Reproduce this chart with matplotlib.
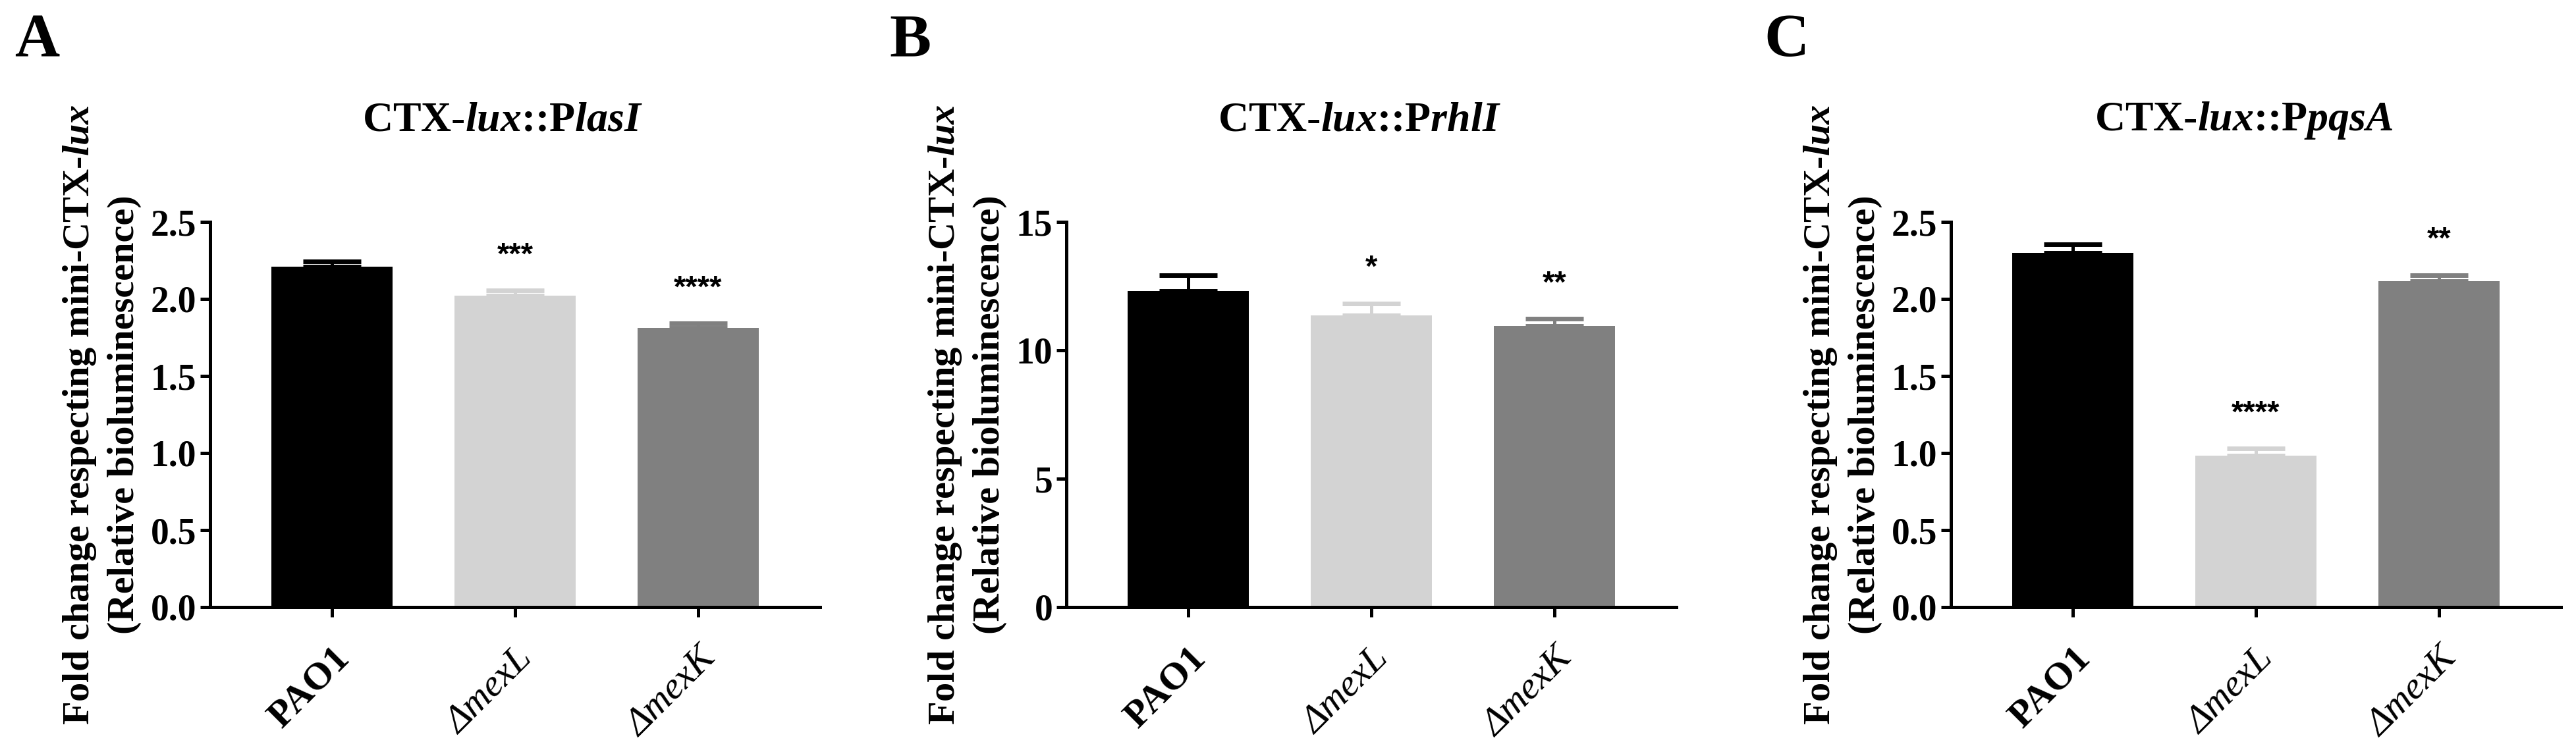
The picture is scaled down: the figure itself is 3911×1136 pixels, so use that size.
import numpy as np
import matplotlib
matplotlib.use("Agg")
import matplotlib.pyplot as plt

# ---------- data ----------
strains = ["PAO1", "\u0394mexL", "\u0394mexK"]
bar_colors = ["#000000", "#d3d3d3", "#808080"]

titles = ["CTX-$lux$::P$lasI$", "CTX-$lux$::P$rhlI$", "CTX-$lux$::P$pqsA$"]
panel_letters = ["A", "B", "C"]

lasI_mean = [2.21, 2.02, 1.81]
lasI_err = [0.035, 0.035, 0.03]
lasI_stars = ["", "***", "****"]

rhlI_mean = [12.3, 11.35, 10.95]
rhlI_err = [0.63, 0.48, 0.28]
rhlI_stars = ["", "*", "**"]

pqsA_mean = [2.30, 0.985, 2.115]
pqsA_err = [0.055, 0.045, 0.04]
pqsA_stars = ["", "****", "**"]

y_ticks = [np.arange(0, 2.51, 0.5), [0, 5, 10, 15], np.arange(0, 2.51, 0.5)]
y_fmt = ["{:.1f}", "{:.0f}", "{:.1f}"]

ylabel = "Fold change respecting mini-CTX-$lux$\n(Relative bioluminescence)"

# ---------- style ----------
plt.rcParams["font.family"] = ["Liberation Serif", "DejaVu Serif"]
plt.rcParams["font.weight"] = "bold"
plt.rcParams["mathtext.fontset"] = "custom"
plt.rcParams["mathtext.rm"] = "Liberation Serif:bold"
plt.rcParams["mathtext.it"] = "Liberation Serif:italic:bold"
plt.rcParams["mathtext.bf"] = "Liberation Serif:bold"

W, H = 3911, 1136
fig = plt.figure(figsize=(W / 100, H / 100), dpi=100)

ax_left = [319, 1619, 2962]
ax_w, ax_top, ax_bot = 926, 337, 922
letter_x = [22, 1350, 2678]

panels = [
    (lasI_mean, lasI_err, lasI_stars),
    (rhlI_mean, rhlI_err, rhlI_stars),
    (pqsA_mean, pqsA_err, pqsA_stars),
]

lw = 3.6
for i, (means, errs, stars) in enumerate(panels):
    ax = fig.add_axes([ax_left[i] / W, 1 - ax_bot / H, ax_w / W, (ax_bot - ax_top) / H])
    x = np.arange(len(strains))
    ax.bar(x, means, width=0.66, color=bar_colors, edgecolor="none", zorder=2)
    for xi, m, e, c in zip(x, means, errs, bar_colors):
        ax.errorbar(xi, m, yerr=[[0], [e]], fmt="none", ecolor=c,
                    elinewidth=3.6, capsize=32, capthick=5, zorder=1)
    for xi, m, e, s in zip(x, means, errs, stars):
        if s:
            ax.annotate(s, xy=(xi, m + e), xytext=(0, 22), textcoords="offset points",
                        ha="center", va="bottom", fontsize=34,
                        family=["Liberation Sans", "DejaVu Sans"], fontweight="bold")

    ticks = y_ticks[i]
    ax.set_ylim(0, ticks[-1])
    ax.set_xlim(-0.665, 2.665)
    ax.set_yticks(ticks)
    ax.set_yticklabels([y_fmt[i].format(t) for t in ticks], fontsize=40, fontweight="bold")
    ax.set_xticks(x)
    ax.set_xticklabels(strains, fontsize=42, rotation=45, ha="right",
                       va="top", rotation_mode="anchor")
    for j, lab in enumerate(ax.get_xticklabels()):
        if j == 0:
            lab.set_fontweight("bold")
        else:
            lab.set_fontweight("normal")
            lab.set_fontstyle("italic")

    for side in ["top", "right"]:
        ax.spines[side].set_visible(False)
    for side in ["left", "bottom"]:
        ax.spines[side].set_linewidth(lw)
    ax.tick_params(axis="y", direction="out", length=11, width=lw, pad=4)
    ax.tick_params(axis="x", direction="out", length=11, width=lw, pad=26)

    ax.set_ylabel(ylabel, fontsize=42, fontweight="bold", linespacing=1.35, labelpad=10)
    ax.text(0.48, 1.263, titles[i], transform=ax.transAxes, ha="center", va="center",
            fontsize=46, fontweight="bold")

    fig.text(letter_x[i] / W, 1 - 20 / H, panel_letters[i], ha="left", va="top",
             fontsize=68, fontweight="bold")

fig.savefig("out.png", dpi=100, facecolor="white")
